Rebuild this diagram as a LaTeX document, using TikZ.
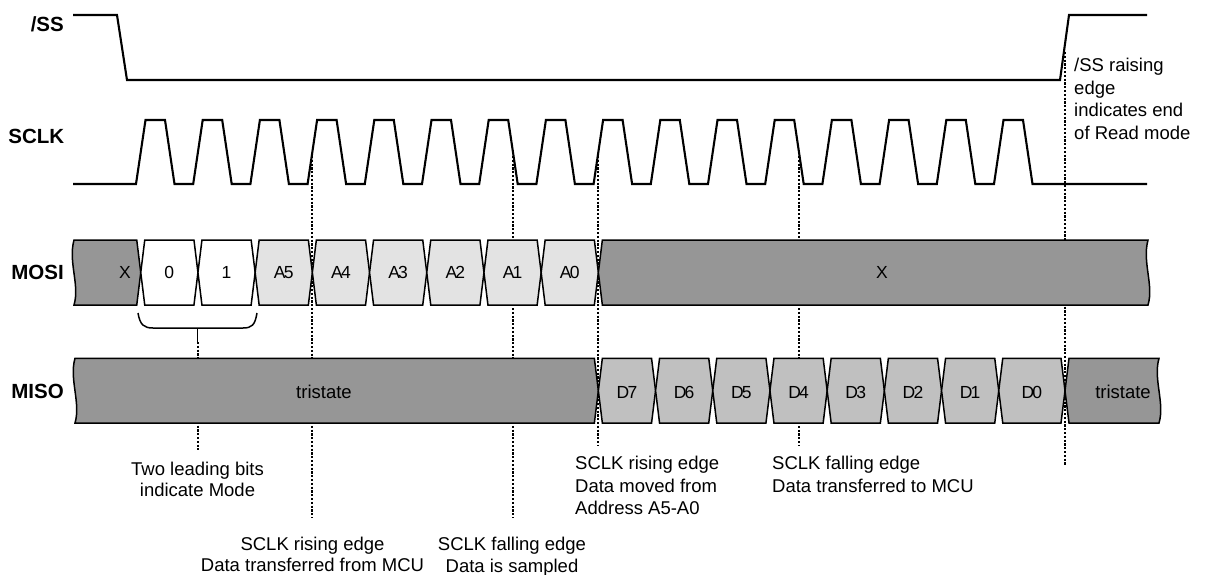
\documentclass[tikz,border=0pt]{standalone}
\usepackage{fontspec}
\setmainfont{Liberation Sans}
\newcommand\lblfont{\fontsize{20.5}{24}\selectfont\bfseries}
\newcommand\datfont{\fontsize{17.5}{20}\selectfont}
\newcommand\txtfont{\fontsize{18.5}{21.5}\selectfont}
\newcommand\txtfontb{\fontsize{18.5}{22.6}\selectfont}
\newcommand\tk[2]{#1\kern-1.8pt #2}
% bus segment: a, b, top, bottom, fill
\newcommand\busseg[5]{%
  \filldraw[bus,fill=#5] (#1,{(#3+#4)/2}) -- ({#1+4},#3) -- ({#2-4},#3) -- (#2,{(#3+#4)/2}) -- ({#2-4},#4) -- ({#1+4},#4) -- cycle;}
\definecolor{gdark}{RGB}{150,150,150}
\definecolor{glight}{RGB}{227,227,227}
\definecolor{gmid}{RGB}{192,192,192}
\begin{document}
\begin{tikzpicture}[x=1pt,y=-1pt,
  sig/.style={line width=2.1pt,line join=miter},
  bus/.style={line width=1.5pt,line join=miter},
  dotline/.style={line width=2pt,dash pattern=on 2.2pt off 1.6pt},
  lbl/.style={font=\lblfont,anchor=east,inner sep=0pt},
  dat/.style={font=\datfont,inner sep=0pt},
  txt/.style={font=\txtfont,inner sep=0pt,align=center},
  txtl/.style={font=\txtfont,inner sep=0pt,align=left,anchor=west},
  txtlb/.style={font=\txtfontb,inner sep=0pt,align=left,anchor=west}]
\useasboundingbox[fill=white] (0,0) rectangle (1207,575);

% dotted guide lines (behind the buses)
\draw[dotline] (312.35,156) -- (312.35,518);
\draw[dotline] (512.95,156) -- (512.95,518);
\draw[dotline] (598.35,156) -- (598.35,445);
\draw[dotline] (798.95,156) -- (798.95,445);
\draw[dotline] (1065,52) -- (1065,465);
\draw[dotline] (197.5,342) -- (197.5,450);

% signal labels
\node[lbl] (lss) at (64,24) {/SS};
\node[lbl] (lsclk) at (64.5,136) {SCLK};
\node[lbl] (lmosi) at (64,272) {MOSI};
\node[lbl] (lmiso) at (64,391) {MISO};

% /SS
\draw[sig] (73,15) -- (117,15) -- (127,80) -- (1060,80) -- (1069,15) -- (1147,15);

% SCLK
\draw[sig] (73,184) \foreach \i in {0,...,15} { -- ({136+57.2*\i},184) -- ({145.5+57.2*\i},120) -- ({165+57.2*\i},120) -- ({174.5+57.2*\i},184) } -- (1147,184);

% MOSI
\filldraw[bus,fill=gdark] (74,240) -- (136.75,240) -- (140.75,272.5) -- (136.75,305) -- (74,305)
  .. controls (80,285) and (68,262) .. (74,240) -- cycle;
\busseg{140.75}{197.95}{240}{305}{white}
\busseg{197.95}{255.15}{240}{305}{white}
\busseg{255.15}{312.35}{240}{305}{glight}
\busseg{312.35}{369.55}{240}{305}{glight}
\busseg{369.55}{426.75}{240}{305}{glight}
\busseg{426.75}{483.95}{240}{305}{glight}
\busseg{483.95}{541.15}{240}{305}{glight}
\busseg{541.15}{598.35}{240}{305}{glight}
\filldraw[bus,fill=gdark] (598.35,272.5) -- (602.35,240) -- (1148,240)
  .. controls (1142,262) and (1154,285) .. (1148,305) -- (602.35,305) -- cycle;
\node[dat] (mx0) at (125,272.5) {X};
\node[dat] (m0) at (169.35,272.5) {0};
\node[dat] (m1) at (226.55,272.5) {1};
\node[dat] (ma5) at (283.75,272.5) {\tk{A}{5}};
\node[dat] (ma4) at (340.95,272.5) {\tk{A}{4}};
\node[dat] (ma3) at (398.15,272.5) {\tk{A}{3}};
\node[dat] (ma2) at (455.35,272.5) {\tk{A}{2}};
\node[dat] (ma1) at (512.55,272.5) {\tk{A}{1}};
\node[dat] (ma0) at (569.75,272.5) {\tk{A}{0}};
\node[dat] (mx1) at (882,272.5) {X};

% brace under the mode bits
\draw[bus] (138,313) .. controls (140,325) and (144,328) .. (153,328) -- (243,328)
  .. controls (252,328) and (255,325) .. (257,313);
\draw[bus] (197.5,328) -- (197.5,343);

% MISO
\filldraw[bus,fill=gdark] (75,358.3) -- (594.35,358.3) -- (598.35,390.65) -- (594.35,423) -- (75,423)
  .. controls (81,403) and (69,379) .. (75,358.3) -- cycle;
\busseg{598.35}{655.55}{358.3}{423}{gmid}
\busseg{655.55}{712.75}{358.3}{423}{gmid}
\busseg{712.75}{769.95}{358.3}{423}{gmid}
\busseg{769.95}{827.15}{358.3}{423}{gmid}
\busseg{827.15}{884.35}{358.3}{423}{gmid}
\busseg{884.35}{941.55}{358.3}{423}{gmid}
\busseg{941.55}{998.75}{358.3}{423}{gmid}
\busseg{998.75}{1065}{358.3}{423}{gmid}
\filldraw[bus,fill=gdark] (1065,390.65) -- (1069,358.3) -- (1159,358.3)
  .. controls (1153,379) and (1165,403) .. (1159,423) -- (1069,423) -- cycle;
\node[dat,font=\txtfont] (tri0) at (324,391.5) {tristate};
\node[dat] (d7) at (626.95,392.5) {\tk{D}{7}};
\node[dat] (d6) at (684.15,392.5) {\tk{D}{6}};
\node[dat] (d5) at (741.35,392.5) {\tk{D}{5}};
\node[dat] (d4) at (798.55,392.5) {\tk{D}{4}};
\node[dat] (d3) at (855.75,392.5) {\tk{D}{3}};
\node[dat] (d2) at (912.95,392.5) {\tk{D}{2}};
\node[dat] (d1) at (970.15,392.5) {\tk{D}{1}};
\node[dat] (d0) at (1031.9,392.5) {\tk{D}{0}};
\node[dat,font=\txtfont] (tri1) at (1123,391.5) {tristate};

% annotations
\node[txt] (nmode) at (197.5,479.5) {Two leading bits\\indicate Mode};
\node[txt] (nrise1) at (312.5,554.5) {SCLK rising edge\\Data transferred from MCU};
\node[txt] (nfall1) at (512,556.5) {SCLK falling edge\\Data is sampled};
\node[txtlb] (nrise2) at (575,485.5) {SCLK rising edge\\Data moved from\\Address A5-A0};
\node[txtlb] (nfall2) at (772,474.5) {SCLK falling edge\\Data transferred to MCU};
\node[txtlb] (nss) at (1074,99) {/SS raising\\edge\\indicates end\\of Read mode};
\end{tikzpicture}
\end{document}
